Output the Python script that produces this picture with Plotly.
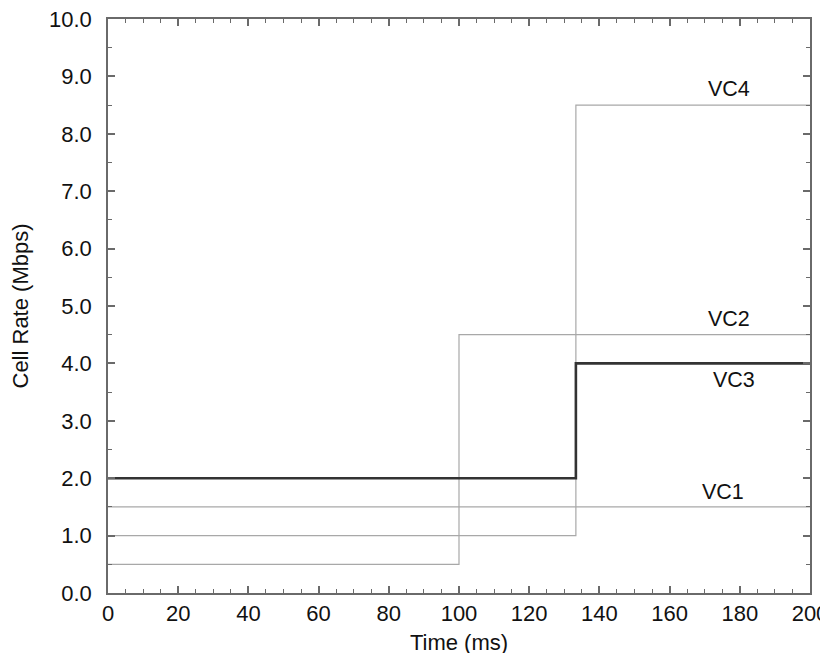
import plotly.graph_objects as go

time_ms = [0, 100, 133.3, 200]
vc1 = [1.5, 1.5, 1.5, 1.5]
vc2 = [0.5, 4.5, 4.5, 4.5]
vc3 = [2.0, 2.0, 4.0, 4.0]
vc4 = [1.0, 1.0, 8.5, 8.5]

labels = ["VC1", "VC2", "VC3", "VC4"]
label_x = [175.2, 177, 178.3, 177]
label_y = [1.5, 4.5, 4.0, 8.5]
label_shift = [15, 16, -17, 16]

fig = go.Figure()
thin = dict(color="#a8a8a8", width=1.2, shape="hv")
fig.add_trace(go.Scatter(x=time_ms, y=vc1, mode="lines", line=thin, name="VC1"))
fig.add_trace(go.Scatter(x=time_ms, y=vc2, mode="lines", line=thin, name="VC2"))
fig.add_trace(go.Scatter(x=time_ms, y=vc4, mode="lines", line=thin, name="VC4"))
fig.add_trace(go.Scatter(x=time_ms, y=vc3, mode="lines",
                         line=dict(color="#333333", width=2.6, shape="hv"), name="VC3"))

for t, x, y, s in zip(labels, label_x, label_y, label_shift):
    fig.add_annotation(x=x, y=y, text=t, showarrow=False, yshift=s,
                       font=dict(size=21.5, color="#111111"))

axis_common = dict(
    showgrid=False, zeroline=False, showline=True, linecolor="#6a6a6a", linewidth=1.5,
    mirror="allticks", ticks="inside", tickcolor="#6a6a6a", tickwidth=1.5, ticklen=7,
    tickfont=dict(size=22, color="#111111"), automargin=False,
    ticklabeloverflow="allow",
)
fig.update_xaxes(range=[0, 200], dtick=20, tick0=0, ticklabelstandoff=0,
                 minor=dict(dtick=5, ticks="inside", ticklen=4, tickcolor="#6a6a6a", tickwidth=1.2),
                 title=dict(text="Time (ms)", font=dict(size=22, color="#111111"), standoff=9),
                 **axis_common)
fig.update_yaxes(range=[0, 10], dtick=1, tick0=0, tickformat=".1f", ticklabelstandoff=10,
                 minor=dict(dtick=0.5, ticks="inside", ticklen=4, tickcolor="#6a6a6a", tickwidth=1.2),
                 title=dict(text="Cell Rate (Mbps)", font=dict(size=22, color="#111111"), standoff=26),
                 **axis_common)

# the page body has an 8px default margin, so the figure is offset by 8px
fig.update_layout(
    width=828, height=653,
    margin=dict(l=100, r=26, t=11, b=68),
    paper_bgcolor="white", plot_bgcolor="white",
    showlegend=False,
    font=dict(family="Liberation Sans, Arial, sans-serif"),
)
fig.write_html("out.html")
